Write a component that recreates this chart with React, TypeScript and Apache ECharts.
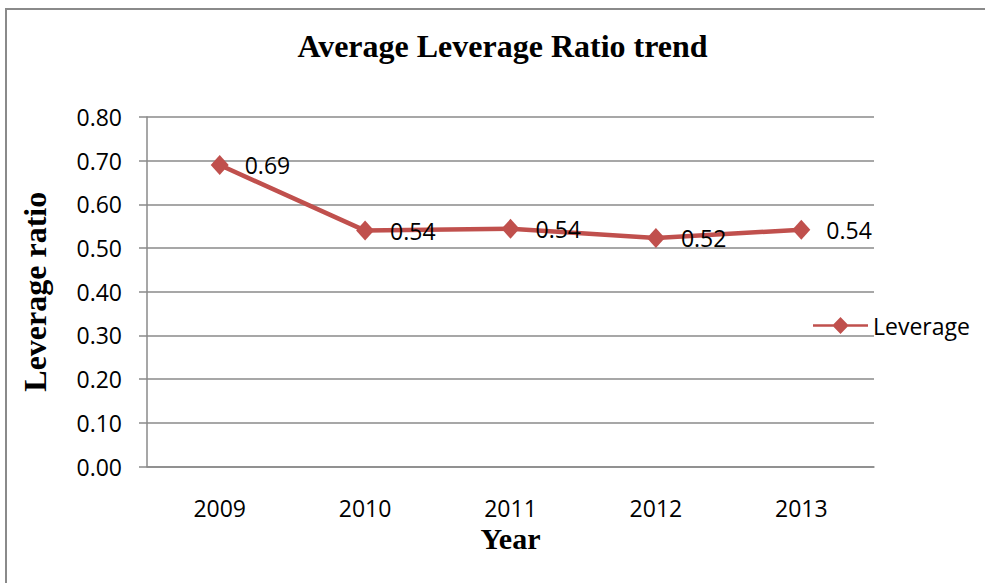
import React, { useEffect, useRef } from "react";
import * as echarts from "echarts";

// Average leverage ratio by year
const years = ["2009", "2010", "2011", "2012", "2013"];
const leverage = [0.69, 0.54, 0.544, 0.523, 0.542];
const yTicks = { min: 0, max: 0.8, interval: 0.1 };

const RED = "#C0504D";
const GRID = "#8a8a8a";
const SANS = "'Open Sans', 'Noto Sans', sans-serif";
const SERIF = "'Liberation Serif', 'DejaVu Serif', serif";

// legend key: a thick line with a diamond in the middle (55 x 18 box)
const LEGEND_ICON =
  "path://M0 7.75L20.5 7.75L27.5 0.5L34.5 7.75L55 7.75L55 10.25L34.5 10.25L27.5 17.5L20.5 10.25L0 10.25Z";

export default function App() {
  const ref = useRef<HTMLDivElement>(null);

  useEffect(() => {
    if (!ref.current) return;
    document.body.style.margin = "0";
    document.body.style.overflow = "hidden";
    const chart = echarts.init(ref.current, undefined, { renderer: "svg" });
    chart.setOption({
      animation: false,
      backgroundColor: "#ffffff",
      title: {
        text: "Average Leverage Ratio trend",
        left: 497.5,
        textAlign: "center",
        top: 25,
        textStyle: {
          fontFamily: SERIF,
          fontWeight: "bold",
          fontSize: 32,
          color: "#000",
        },
      },
      // chart-area frame: only its left and top edges fall inside the view
      graphic: [
        {
          type: "line",
          shape: { x1: 6, y1: 9, x2: 6, y2: 583 },
          style: { stroke: GRID, lineWidth: 2 },
          silent: true,
        },
        {
          type: "line",
          shape: { x1: 5, y1: 9, x2: 985, y2: 9 },
          style: { stroke: GRID, lineWidth: 2 },
          silent: true,
        },
      ],
      grid: { left: 147, top: 117, right: 111, bottom: 116.5, containLabel: false },
      legend: {
        data: [{ name: "Leverage", icon: LEGEND_ICON }],
        left: 813,
        top: 314,
        padding: 0,
        itemWidth: 55,
        itemHeight: 18,
        textStyle: { fontFamily: SANS, fontSize: 23, color: "#000", padding: [0, 0, 0, 0] },
      },
      xAxis: {
        type: "category",
        data: years,
        boundaryGap: true,
        axisLine: { lineStyle: { color: GRID, width: 1.5 } },
        axisTick: { show: false },
        axisLabel: { margin: 30, fontFamily: SANS, fontSize: 23, color: "#000" },
        name: "Year",
        nameLocation: "middle",
        nameGap: 57,
        nameMoveOverlap: false,
        nameTextStyle: {
          fontFamily: SERIF,
          fontWeight: "bold",
          fontSize: 30,
          color: "#000",
        },
      },
      yAxis: {
        type: "value",
        min: yTicks.min,
        max: yTicks.max,
        interval: yTicks.interval,
        axisLine: { show: true, lineStyle: { color: GRID, width: 1.5 } },
        axisTick: { show: true, length: 8, lineStyle: { color: GRID, width: 1.5 } },
        splitLine: { lineStyle: { color: GRID, width: 1.5 } },
        axisLabel: {
          margin: 25,
          fontFamily: SANS,
          fontSize: 23,
          color: "#000",
          formatter: (v: number) => v.toFixed(2),
        },
        name: "Leverage ratio",
        nameLocation: "middle",
        nameGap: 96,
        nameRotate: 90,
        nameTextStyle: {
          fontFamily: SERIF,
          fontWeight: "bold",
          fontSize: 32,
          color: "#000",
        },
      },
      series: [
        {
          name: "Leverage",
          type: "line",
          data: leverage,
          symbol: "diamond",
          symbolSize: [18, 20],
          lineStyle: { color: RED, width: 4.5 },
          itemStyle: { color: RED },
          label: {
            show: true,
            position: "right",
            distance: 16,
            fontFamily: SANS,
            fontSize: 23,
            color: "#000",
            formatter: (p: any) => Number(p.value).toFixed(2),
          },
        },
      ],
    });
    return () => chart.dispose();
  }, []);

  return (
    <div
      ref={ref}
      style={{ position: "absolute", left: 0, top: 0, width: 985, height: 583 }}
    />
  );
}
